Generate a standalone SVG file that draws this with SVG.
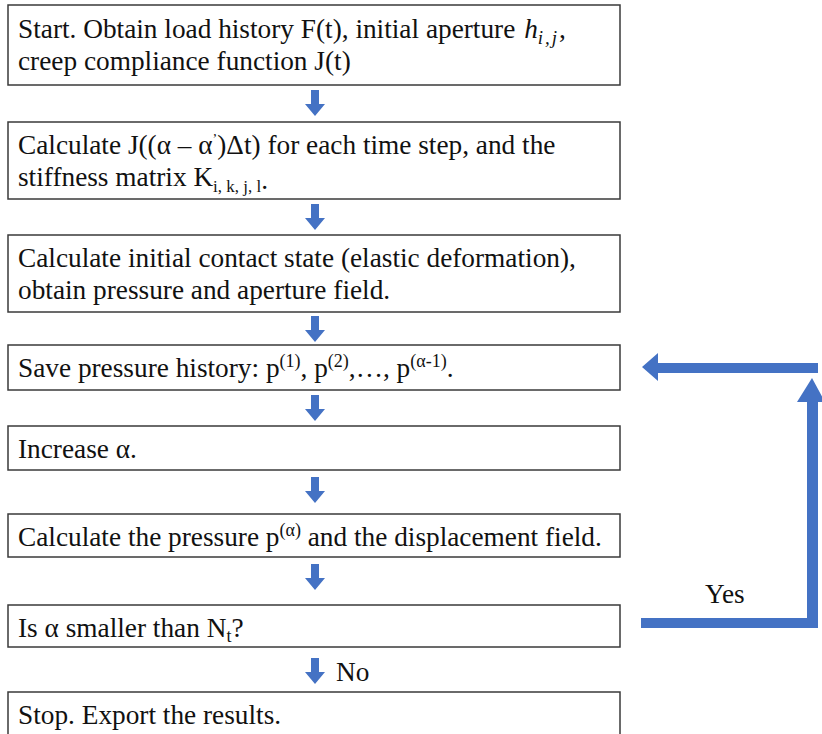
<svg xmlns="http://www.w3.org/2000/svg" width="822" height="734" viewBox="0 0 822 734">
<defs>
<style>
.box{fill:#fff;stroke:#3a3a3a;stroke-width:1.5}
.t{font-family:"Liberation Serif","Times New Roman",serif;font-size:27.3px;fill:#111}
.m{font-family:"Liberation Serif","DejaVu Serif",serif;font-style:italic}
.sup{font-size:18px}
.arr{fill:#4472C4}
</style>
<path id="down" d="M-4,0 H4 V14 H10 L0,26 L-10,14 H-4 Z"/>
</defs>
<rect width="822" height="734" fill="#fff"/>
<g id="connectors" class="arr">
<use href="#down" x="315" y="90"/>
<use href="#down" x="315" y="204"/>
<use href="#down" x="315" y="316"/>
<use href="#down" x="315" y="395"/>
<use href="#down" x="315" y="477"/>
<use href="#down" x="315" y="564"/>
<use href="#down" x="315" y="658"/>
<path d="M641,618 H807 V402 H797 L812,378 L825,402 H818 V628 H641 Z"/>
<path d="M818,363 H658 V353 L642,367 L658,381 V373 H818 Z"/>
</g>
<g id="n1"><rect class="box" x="8" y="5" width="612" height="80"/>
<text class="t" x="18" y="38">Start. Obtain load history F(t), initial aperture <tspan class="m" dx="2">h</tspan><tspan class="m" font-size="19" letter-spacing="2" dy="6">i,j</tspan><tspan dy="-6">,</tspan></text>
<text class="t" x="18" y="70">creep compliance function J(t)</text></g>
<g id="n2"><rect class="box" x="8" y="122" width="612" height="77"/>
<text class="t" x="18" y="154">Calculate J((α – α<tspan font-size="14" dy="-10">’</tspan><tspan dy="10">)Δt) for each time step, and the</tspan></text>
<text class="t" x="18" y="186">stiffness matrix K<tspan font-size="17" dy="6">i, k, j, l</tspan><tspan dy="-3">.</tspan></text></g>
<g id="n3"><rect class="box" x="8" y="235" width="612" height="77"/>
<text class="t" x="18" y="267">Calculate initial contact state (elastic deformation),</text>
<text class="t" x="18" y="299">obtain pressure and aperture field.</text></g>
<g id="n4"><rect class="box" x="8" y="345" width="612" height="45"/>
<text class="t" x="18" y="377">Save pressure history: p<tspan class="sup" dy="-10">(1)</tspan><tspan dy="10">, p</tspan><tspan class="sup" dy="-10">(2)</tspan><tspan dy="10">,…, p</tspan><tspan class="sup" dy="-10">(α-1)</tspan><tspan dy="10">.</tspan></text></g>
<g id="n5"><rect class="box" x="8" y="426" width="612" height="44"/>
<text class="t" x="18" y="458">Increase α.</text></g>
<g id="n6"><rect class="box" x="8" y="514" width="612" height="43"/>
<text class="t" x="18" y="546">Calculate the pressure p<tspan class="sup" dy="-10">(α)</tspan><tspan dy="10"> and the displacement field.</tspan></text></g>
<g id="n7"><rect class="box" x="8" y="605" width="612" height="42"/>
<text class="t" x="18" y="637">Is α smaller than N<tspan class="sup" dy="5">t</tspan><tspan dy="-5">?</tspan></text></g>
<g id="n8"><rect class="box" x="8" y="692" width="612" height="44"/>
<text class="t" x="18" y="724">Stop. Export the results.</text></g>
<text class="t" x="336" y="681">No</text>
<text class="t" x="705" y="603">Yes</text>
</svg>
